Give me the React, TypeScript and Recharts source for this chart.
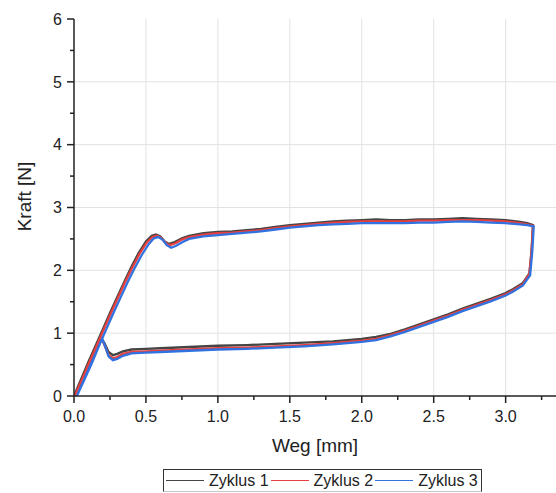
import { CartesianGrid, Line, LineChart, XAxis, YAxis } from 'recharts';

const SERIES_NAMES = ['Zyklus 1', 'Zyklus 2', 'Zyklus 3'];
const SERIES_COLORS = ['#444444', '#e8403f', '#2f72e0'];

const X_TICKS = [0, 0.25, 0.5, 0.75, 1, 1.25, 1.5, 1.75, 2, 2.25, 2.5, 2.75, 3, 3.25];
const Y_TICKS = [0, 0.5, 1, 1.5, 2, 2.5, 3, 3.5, 4, 4.5, 5, 5.5, 6];
const X_GRID = [0.5, 1, 1.5, 2, 2.5, 3];
const Y_GRID = [1, 2, 3, 4, 5];

// Zyklus 1: loading branch, then unloading branch back to the origin
const X1 = [
  0, 0.05, 0.1, 0.15, 0.2, 0.25, 0.3, 0.35, 0.4, 0.45, 0.5, 0.54, 0.57, 0.6, 0.63, 0.66, 0.7, 0.75, 0.8, 0.9, 1.0,
  1.1, 1.2, 1.3, 1.4, 1.5, 1.6, 1.7, 1.8, 1.9, 2.0, 2.1, 2.2, 2.3, 2.4, 2.5, 2.6, 2.7, 2.8, 2.9, 3.0, 3.1, 3.15, 3.19,
  3.18, 3.165, 3.12, 3.05, 3.0, 2.9, 2.8, 2.7, 2.6, 2.5, 2.4, 2.3, 2.2, 2.1, 2.0, 1.9, 1.8, 1.6, 1.4, 1.2, 1.0, 0.8,
  0.6, 0.5, 0.4, 0.34, 0.3, 0.27, 0.24, 0.21, 0.19, 0.17, 0.1, 0
];
const Y1 = [
  0, 0.27, 0.54, 0.8, 1.06, 1.32, 1.57, 1.82, 2.06, 2.28, 2.46, 2.55, 2.57, 2.54, 2.46, 2.42, 2.45, 2.51, 2.55, 2.59,
  2.61, 2.62, 2.64, 2.66, 2.69, 2.72, 2.74, 2.76, 2.78, 2.79, 2.8, 2.81, 2.8, 2.8, 2.81, 2.81, 2.82, 2.83, 2.82, 2.81,
  2.8, 2.77, 2.75, 2.72,
  2.3, 1.95, 1.8, 1.7, 1.64, 1.55, 1.47, 1.39, 1.3, 1.22, 1.14, 1.06, 0.99, 0.94, 0.91, 0.89, 0.87, 0.85, 0.83, 0.81,
  0.8, 0.78, 0.76, 0.75, 0.74, 0.71, 0.67, 0.65, 0.7, 0.85, 0.91, 0.88, 0.53, 0
];

const X2 = [
  0.005, 0.055, 0.105, 0.155, 0.205, 0.255, 0.305, 0.355, 0.405, 0.455, 0.505, 0.545, 0.575, 0.605, 0.635, 0.665,
  0.705, 0.75, 0.8, 0.9, 1.0, 1.1, 1.2, 1.3, 1.4, 1.5, 1.6, 1.7, 1.8, 1.9, 2.0, 2.1, 2.2, 2.3, 2.4, 2.5, 2.6, 2.7, 2.8,
  2.9, 3.0, 3.1, 3.15, 3.19,
  3.18, 3.165, 3.12, 3.05, 3.0, 2.9, 2.8, 2.7, 2.6, 2.5, 2.4, 2.3, 2.2, 2.1, 2.0, 1.9, 1.8, 1.6, 1.4, 1.2, 1.0, 0.8,
  0.6, 0.5, 0.4, 0.34, 0.3, 0.27, 0.24, 0.21, 0.195, 0.175, 0.11, 0.005
];
const Y2 = [
  0, 0.26, 0.53, 0.79, 1.05, 1.31, 1.56, 1.81, 2.04, 2.26, 2.44, 2.53, 2.55, 2.52, 2.44, 2.4, 2.43, 2.49, 2.53, 2.57,
  2.59, 2.6, 2.62, 2.64, 2.67, 2.7, 2.72, 2.74, 2.76, 2.77, 2.78, 2.78, 2.78, 2.78, 2.79, 2.79, 2.8, 2.8, 2.8, 2.79,
  2.78, 2.75, 2.73, 2.71,
  2.3, 1.94, 1.78, 1.68, 1.62, 1.53, 1.45, 1.37, 1.28, 1.2, 1.12, 1.04, 0.97, 0.91, 0.88, 0.86, 0.84, 0.81, 0.79, 0.77,
  0.76, 0.74, 0.72, 0.71, 0.7, 0.67, 0.62, 0.6, 0.65, 0.82, 0.9, 0.87, 0.5, 0
];

const X3 = [
  0.02, 0.07, 0.12, 0.17, 0.22, 0.27, 0.32, 0.37, 0.42, 0.47, 0.52, 0.555, 0.585, 0.615, 0.645, 0.675, 0.71, 0.755,
  0.8, 0.9, 1.0, 1.1, 1.2, 1.3, 1.4, 1.5, 1.6, 1.7, 1.8, 1.9, 2.0, 2.1, 2.2, 2.3, 2.4, 2.5, 2.6, 2.7, 2.8, 2.9, 3.0,
  3.1, 3.15, 3.195,
  3.185, 3.17, 3.12, 3.05, 3.0, 2.9, 2.8, 2.7, 2.6, 2.5, 2.4, 2.3, 2.2, 2.1, 2.0, 1.9, 1.8, 1.6, 1.4, 1.2, 1.0, 0.8,
  0.6, 0.5, 0.4, 0.34, 0.3, 0.27, 0.24, 0.215, 0.2, 0.185, 0.12, 0.02
];
const Y3 = [
  0, 0.26, 0.52, 0.78, 1.04, 1.3, 1.55, 1.8, 2.03, 2.24, 2.42, 2.51, 2.53, 2.49, 2.4, 2.36, 2.39, 2.45, 2.5, 2.54,
  2.56, 2.58, 2.6, 2.62, 2.65, 2.68, 2.7, 2.72, 2.73, 2.74, 2.75, 2.75, 2.75, 2.75, 2.76, 2.76, 2.77, 2.78, 2.77, 2.76,
  2.75, 2.73, 2.72, 2.7,
  2.3, 1.92, 1.76, 1.66, 1.6, 1.51, 1.43, 1.35, 1.26, 1.18, 1.1, 1.02, 0.95, 0.89, 0.86, 0.84, 0.82, 0.79, 0.77, 0.75,
  0.74, 0.72, 0.7, 0.69, 0.68, 0.64, 0.59, 0.57, 0.63, 0.8, 0.89, 0.86, 0.5, 0
];

const SERIES_X = [X1, X2, X3];
const SERIES_Y = [Y1, Y2, Y3];

const FONT = '"Liberation Sans", Arial, sans-serif';
const AXIS_COLOR = '#222';

function isMajor(value: number, step: number) {
  const r = value / step;
  return Math.abs(r - Math.round(r)) < 1e-6;
}

function XTick(props: any) {
  const { x, y, payload } = props;
  const major = isMajor(payload.value, 0.5);
  return (
    <g>
      <line x1={x} x2={x} y1={y} y2={y + (major ? 7 : 4)} stroke={AXIS_COLOR} strokeWidth={1.5} />
      {major && (
        <text x={x} y={y + 26} textAnchor="middle" fill="#222" fontSize={16} fontFamily={FONT}>
          {Number(payload.value).toFixed(1)}
        </text>
      )}
    </g>
  );
}

function YTick(props: any) {
  const { x, y, payload } = props;
  const major = isMajor(payload.value, 1);
  return (
    <g>
      <line x1={x} x2={x - (major ? 7 : 4)} y1={y} y2={y} stroke={AXIS_COLOR} strokeWidth={1.5} />
      {major && (
        <text x={x - 12} y={y} dy="0.36em" textAnchor="end" fill="#222" fontSize={16} fontFamily={FONT}>
          {payload.value}
        </text>
      )}
    </g>
  );
}

function YLabel({ viewBox }: any) {
  const cy = viewBox.y + viewBox.height / 2 - 11;
  return (
    <text
      x={31}
      y={cy}
      transform={`rotate(-90 31 ${cy})`}
      textAnchor="middle"
      fill="#222"
      fontSize={19}
      fontFamily={FONT}
    >
      Kraft [N]
    </text>
  );
}

export default function App() {
  const series = SERIES_NAMES.map((name, i) => ({
    name,
    color: SERIES_COLORS[i],
    data: SERIES_X[i].map((x, j) => ({ x, y: SERIES_Y[i][j] }))
  }));

  return (
    <div style={{ position: 'absolute', left: 0, top: 0, width: 556, height: 493, background: '#fff' }}>
      <LineChart width={556} height={493} margin={{ top: 19, right: 0, bottom: 0, left: 0 }}>
        <CartesianGrid stroke="#e2e2e2" horizontalValues={Y_GRID} verticalValues={X_GRID} />
        <XAxis
          type="number"
          dataKey="x"
          domain={[0, 3.35]}
          allowDataOverflow
          ticks={X_TICKS}
          interval={0}
          height={97}
          tickSize={0}
          tickMargin={0}
          tickLine={false}
          tick={<XTick />}
          axisLine={{ stroke: AXIS_COLOR, strokeWidth: 1.5 }}
          label={{ value: 'Weg [mm]', position: 'insideBottom', offset: 41, fill: '#222', fontSize: 19, fontFamily: FONT }}
        />
        <YAxis
          type="number"
          dataKey="y"
          domain={[0, 6]}
          ticks={Y_TICKS}
          interval={0}
          width={74}
          tickSize={0}
          tickMargin={0}
          tickLine={false}
          tick={<YTick />}
          axisLine={{ stroke: AXIS_COLOR, strokeWidth: 1.5 }}
          label={{ content: <YLabel /> }}
        />
        {series.map((s) => (
          <Line
            key={s.name}
            data={s.data}
            dataKey="y"
            name={s.name}
            type="linear"
            stroke={s.color}
            strokeWidth={2.3}
            dot={false}
            activeDot={false}
            isAnimationActive={false}
          />
        ))}
      </LineChart>
      <div
        style={{
          position: 'absolute',
          left: 163,
          top: 469,
          width: 315,
          height: 21,
          border: '1px solid #333',
          borderBottomColor: '#c8c8c8',
          display: 'flex',
          alignItems: 'center',
          paddingLeft: 2,
          fontFamily: FONT,
          fontSize: 16,
          color: '#222',
          whiteSpace: 'nowrap'
        }}
      >
        {series.map((s) => (
          <div key={s.name} style={{ display: 'flex', alignItems: 'center', marginRight: 2 }}>
            <div style={{ width: 38, height: 0, borderTop: `1.5px solid ${s.color}`, marginRight: 5 }} />
            <span>{s.name}</span>
          </div>
        ))}
      </div>
    </div>
  );
}
